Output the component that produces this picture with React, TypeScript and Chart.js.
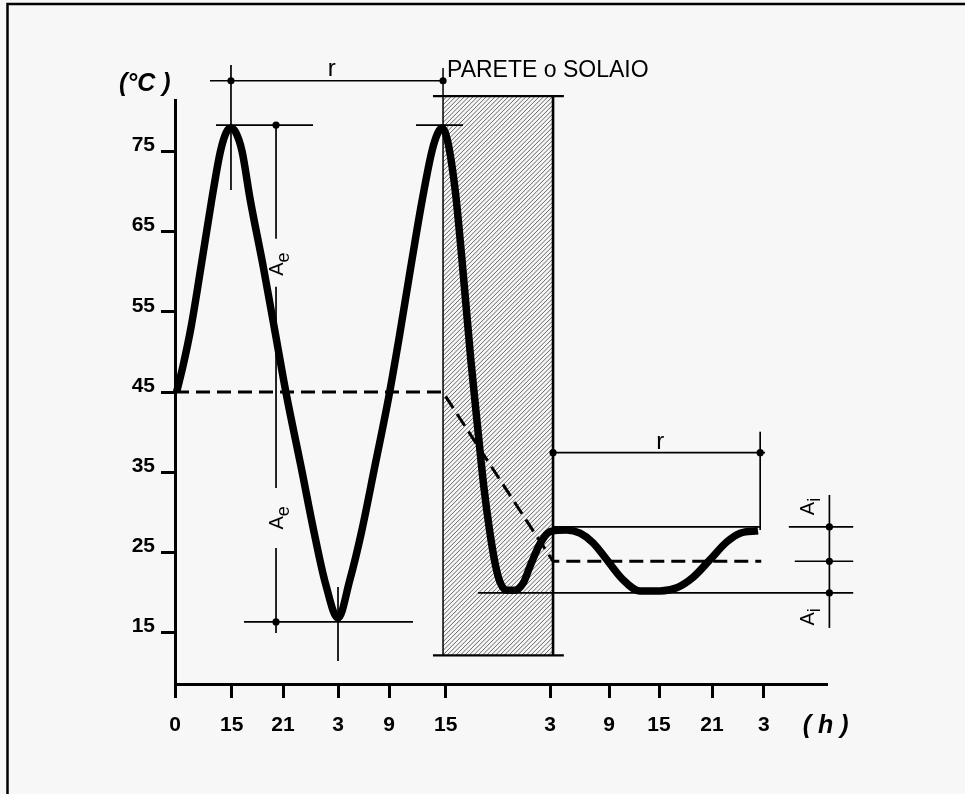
import React, { useEffect, useRef } from "react";
import { Chart, registerables } from "chart.js";

Chart.register(...registerables);

// ---- data (x in schematic tick-slot units along the time axis, y in °C) ----
const xTickPositions = [0, 1.048, 1.997, 3.014, 3.957, 5.006, 6.934, 8.025, 8.95, 9.93, 10.89];
const xTickLabels = ["0", "15", "21", "3", "9", "15", "3", "9", "15", "21", "3"];
const yTickValues = [15, 25, 35, 45, 55, 65, 75];

const curveX = [
  0.03, 0.15, 0.3, 0.49, 0.68, 0.84, 0.95, 1.035,
  1.12, 1.24, 1.39, 1.635, 1.85, 2.05, 2.33, 2.575, 2.78, 3.014,
  3.23, 3.45, 3.7, 3.95, 4.15, 4.36, 4.57, 4.75, 4.86, 4.937,
  5.03, 5.18, 5.31, 5.47, 5.6, 5.71, 5.82, 5.92, 6.01, 6.13, 6.29,
  6.44, 6.56, 6.75, 6.934,
  7.243, 7.489, 7.73, 7.983, 8.284, 8.599, 8.968, 9.277, 9.578, 9.893, 10.2, 10.45, 10.78,
];
const curveY = [
  45.0, 48.3, 53.2, 61.0, 69.0, 75.0, 77.4, 77.9,
  77.4, 75.0, 69.0, 60.5, 52.5, 45.0, 35.7, 27.4, 21.2, 16.8,
  21.5, 27.6, 35.9, 44.3, 52.0, 60.6, 68.9, 75.0, 77.3, 77.9,
  76.6, 70.2, 61.2, 49.0, 40.3, 33.2, 27.6, 23.6, 21.3, 20.3, 20.3,
  21.2, 23.2, 26.1, 27.6,
  27.8, 27.4, 26.2, 24.1, 21.6, 20.2, 20.2, 20.6, 21.9, 24.1, 26.3, 27.4, 27.7,
];
const meanX = [0, 4.95, 6.99, 10.84];
const meanY = [45, 45, 23.9, 23.9];

// reference levels used by the dimension annotations (°C)
const extPeak = 78.27;
const extTrough = 16.34;
const intMax = 28.18;
const intMean = 23.9;
const intMin = 19.95;

const FONT = '"Liberation Sans", Arial, Helvetica, sans-serif';

const diagramPlugin = {
  id: "diagram",
  beforeDraw(chart: any) {
    const { ctx, width, height } = chart;
    ctx.save();
    ctx.fillStyle = "#f7f7f7";
    ctx.fillRect(0, 0, width, height);
    ctx.strokeStyle = "#000";
    ctx.lineWidth = 2.5;
    ctx.beginPath();
    ctx.moveTo(7.5, height);
    ctx.lineTo(7.5, 4);
    ctx.lineTo(width, 4);
    ctx.stroke();
    ctx.restore();
  },
  beforeDatasetsDraw(chart: any) {
    const { ctx } = chart;
    const xs = chart.scales.x;
    const ys = chart.scales.y;
    const l = xs.getPixelForValue(4.956);
    const r = xs.getPixelForValue(6.99);
    const t = ys.getPixelForValue(81.89);
    const b = ys.getPixelForValue(12.16);
    ctx.save();
    ctx.beginPath();
    ctx.rect(l, t, r - l, b - t);
    ctx.clip();
    ctx.strokeStyle = "#555";
    ctx.lineWidth = 0.9;
    ctx.beginPath();
    const h = b - t;
    for (let s = l - h; s < r + 6; s += 4.4) {
      ctx.moveTo(s, b);
      ctx.lineTo(s + h, t);
    }
    ctx.stroke();
    ctx.restore();
  },
  afterDatasetsDraw(chart: any) {
    const { ctx, chartArea } = chart;
    const xs = chart.scales.x;
    const ys = chart.scales.y;
    const X = (v: number) => xs.getPixelForValue(v);
    const Y = (v: number) => ys.getPixelForValue(v);
    ctx.save();
    ctx.strokeStyle = "#000";
    ctx.fillStyle = "#000";
    const line = (x1: number, y1: number, x2: number, y2: number, w = 1.7) => {
      ctx.lineWidth = w;
      ctx.beginPath();
      ctx.moveTo(x1, y1);
      ctx.lineTo(x2, y2);
      ctx.stroke();
    };
    const dot = (x: number, y: number) => {
      ctx.beginPath();
      ctx.arc(x, y, 3.6, 0, Math.PI * 2);
      ctx.fill();
    };
    const subLabel = (main: string, sub: string, cx: number, cy: number) => {
      ctx.save();
      ctx.translate(cx, cy);
      ctx.rotate(-Math.PI / 2);
      ctx.font = `20px ${FONT}`;
      const w1 = ctx.measureText(main).width;
      ctx.font = `18px ${FONT}`;
      const w2 = ctx.measureText(sub).width;
      const start = -(w1 + w2) / 2;
      ctx.textBaseline = "alphabetic";
      ctx.textAlign = "left";
      ctx.font = `20px ${FONT}`;
      ctx.fillText(main, start, 7);
      ctx.font = `18px ${FONT}`;
      ctx.fillText(sub, start + w1, 13);
      ctx.restore();
    };

    // wall outline
    const wallL = X(4.956);
    const wallR = X(6.99);
    const wallT = Y(81.89);
    const wallB = Y(12.16);
    line(X(4.77), wallT, X(7.19), wallT, 2.2);
    line(X(4.77), wallB, X(7.19), wallB, 2.2);
    line(wallR, wallT, wallR, wallB, 2.6);
    line(wallL, Y(85.38), wallL, wallB, 1.5);

    // top "r" dimension
    const rTop = 83.8;
    line(X(0.647), Y(rTop), wallL, Y(rTop));
    line(X(1.035), Y(85.75), X(1.035), Y(70.17));
    dot(X(1.035), Y(rTop));
    dot(wallL, Y(rTop));

    // peak / trough extension lines
    line(X(0.758), Y(extPeak), X(2.552), Y(extPeak));
    line(X(4.456), Y(extPeak), X(5.325), Y(extPeak));
    line(X(1.276), Y(extTrough), X(4.4), Y(extTrough));
    line(X(3.014), Y(20.7), X(3.014), Y(11.48));

    // Ae dimension
    const aeX = X(1.868);
    line(aeX, Y(extPeak), aeX, Y(64.1));
    line(aeX, Y(58.13), aeX, Y(33.04));
    line(aeX, Y(25.56), aeX, Y(14.97));
    dot(aeX, Y(extPeak));
    dot(aeX, Y(extTrough));

    // right "r" dimension
    const rRight = 37.44;
    line(wallR, Y(rRight), X(10.91), Y(rRight));
    line(X(10.82), Y(40.05), X(10.82), Y(27.8));
    dot(wallR, Y(rRight));
    dot(X(10.82), Y(rRight));

    // internal amplitude lines
    line(wallR, Y(intMax), X(10.82), Y(intMax));
    line(X(11.35), Y(intMax), X(12.54), Y(intMax));
    line(X(11.46), Y(intMean), X(12.54), Y(intMean));
    line(X(5.6), Y(intMin), X(12.54), Y(intMin));
    const aiX = X(12.1);
    line(aiX, Y(32.16), aiX, Y(15.59));
    dot(aiX, Y(intMax));
    dot(aiX, Y(intMean));
    dot(aiX, Y(intMin));

    // texts
    ctx.textAlign = "center";
    ctx.textBaseline = "alphabetic";
    ctx.font = `24px ${FONT}`;
    ctx.fillText("r", X(2.9), Y(rTop) - 5);
    ctx.fillText("r", X(8.97), Y(rRight) - 4);
    ctx.textAlign = "left";
    ctx.font = `23px ${FONT}`;
    ctx.fillText("PARETE o SOLAIO", wallL + 4, Y(rTop) - 4);

    subLabel("A", "e", aeX, Y(60.95));
    subLabel("A", "e", aeX, Y(29.3));
    subLabel("A", "i", X(11.69), Y(30.73));
    subLabel("A", "i", X(11.69), Y(16.96));

    ctx.font = `italic bold 25px ${FONT}`;
    ctx.textAlign = "left";
    ctx.fillText("(°C )", chartArea.left - 56, chartArea.top - 9);
    ctx.fillText("( h )", chartArea.right - 24, chartArea.bottom + 49);
    ctx.restore();
  },
};

export default function App() {
  const canvasRef = useRef<HTMLCanvasElement | null>(null);

  useEffect(() => {
    const canvas = canvasRef.current;
    if (!canvas) return;
    Chart.defaults.font.family = FONT;
    const chart = new Chart(canvas, {
      type: "line",
      data: {
        datasets: [
          {
            label: "temperatura",
            data: curveX.map((x, i) => ({ x, y: curveY[i] })),
            borderColor: "#000",
            borderWidth: 7.5,
            pointRadius: 0,
            cubicInterpolationMode: "monotone",
            borderJoinStyle: "round",
            fill: false,
            clip: false as any,
            order: 0,
          },
          {
            label: "media",
            data: meanX.map((x, i) => ({ x, y: meanY[i] })),
            borderColor: "#000",
            borderWidth: 3,
            borderDash: [14, 7],
            pointRadius: 0,
            tension: 0,
            fill: false,
            clip: false as any,
            order: 1,
          },
        ],
      },
      options: {
        responsive: false,
        animation: false,
        devicePixelRatio: 1,
        layout: { padding: { top: 100, right: 138.3, bottom: 0, left: 0 } },
        plugins: {
          legend: { display: false },
          tooltip: { enabled: false },
          title: { display: false },
        },
        scales: {
          x: {
            type: "linear",
            min: 0,
            max: 12.05,
            afterBuildTicks: (scale: any) => {
              scale.ticks = xTickPositions.map((v) => ({ value: v }));
            },
            afterFit: (scale: any) => {
              scale.height = 110;
            },
            ticks: {
              autoSkip: false,
              maxRotation: 0,
              color: "#000",
              padding: 15,
              font: { size: 21, weight: "bold" },
              callback: (_v: any, index: number) => xTickLabels[index],
            },
            grid: {
              drawOnChartArea: false,
              drawTicks: true,
              tickLength: 14,
              tickWidth: 3,
              lineWidth: 3,
              color: "#000",
            },
            border: { display: true, width: 3, color: "#000" },
          },
          y: {
            type: "linear",
            min: 8.6,
            max: 81.4,
            afterBuildTicks: (scale: any) => {
              scale.ticks = yTickValues.map((v) => ({ value: v }));
            },
            afterFit: (scale: any) => {
              scale.width = 175;
            },
            ticks: {
              autoSkip: false,
              color: "#000",
              padding: 6,
              labelOffset: -6,
              font: { size: 21, weight: "bold" },
              callback: (v: any) => String(v),
            },
            grid: {
              drawOnChartArea: false,
              drawTicks: true,
              tickLength: 14,
              tickWidth: 3,
              lineWidth: 3,
              color: "#000",
            },
            border: { display: true, width: 3, color: "#000" },
          },
        },
      },
      plugins: [diagramPlugin],
    });
    return () => chart.destroy();
  }, []);

  return (
    <div style={{ position: "absolute", left: 0, top: 0, width: 965, height: 794, background: "#f7f7f7" }}>
      <canvas ref={canvasRef} width={965} height={794} style={{ display: "block", width: 965, height: 794 }} />
    </div>
  );
}
